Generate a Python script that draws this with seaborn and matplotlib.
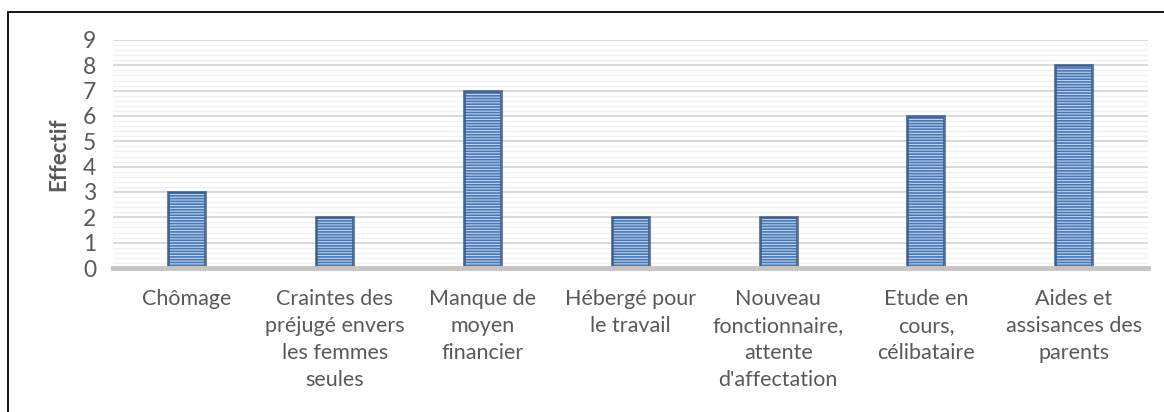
import matplotlib
matplotlib.use("Agg")
import matplotlib.pyplot as plt
from matplotlib.patches import Rectangle
from matplotlib.ticker import MultipleLocator
import seaborn as sns
import pandas as pd

categories = [
    "Chômage",
    "Craintes des\npréjugé envers\nles femmes\nseules",
    "Manque de\nmoyen\nfinancier",
    "Hébergé pour\nle travail",
    "Nouveau\nfonctionnaire,\nattente\nd'affectation",
    "Etude en\ncours,\ncélibataire",
    "Aides et\nassisances des\nparents",
]
effectif = [3, 2, 7, 2, 2, 6, 8]
y_ticks = list(range(0, 10))
y_label = "Effectif"

sns.set_theme(style="white")
plt.rcParams["font.family"] = ["Lato", "DejaVu Sans"]
plt.rcParams["hatch.linewidth"] = 1.2

df = pd.DataFrame({"cat": categories, "val": effectif})

fig = plt.figure(figsize=(11.64, 4.12), dpi=100)
ax = fig.add_axes([0.097, 0.3495, 0.889, 0.5535])

sns.barplot(data=df, x="cat", y="val", ax=ax, width=0.25,
            color="#bcd3ef", edgecolor="#4f81bd", linewidth=0, zorder=3)

for p in ax.patches:
    p.set_hatch("------")
    p.set_edgecolor("#4677b8")
    p.set_linewidth(0)
    outline = Rectangle(p.get_xy(), p.get_width(), p.get_height(),
                        facecolor="none", edgecolor="#3b5a85", linewidth=2.0,
                        alpha=0.85, zorder=4)
    ax.add_patch(outline)

ax.set_ylim(0, 9)
ax.set_xlim(-0.5, len(categories) - 0.5)
ax.set_yticks(y_ticks)
ax.yaxis.set_minor_locator(MultipleLocator(0.2))
ax.grid(axis="y", which="major", color="#d9d9d9", linewidth=1.4, zorder=0)
ax.grid(axis="y", which="minor", color="#f1f1f1", linewidth=1.0, zorder=0)
ax.set_axisbelow(True)

for s in ["left", "right", "top"]:
    ax.spines[s].set_visible(False)
ax.spines["bottom"].set_color("#c8c4c4")
ax.spines["bottom"].set_linewidth(3.5)
ax.spines["bottom"].set_zorder(5)

ax.tick_params(axis="y", which="both", length=0, pad=12, labelsize=16.5,
               labelcolor="#595959")
ax.tick_params(axis="x", length=0, pad=15, labelsize=15.5,
               labelcolor="#595959")
for lbl in ax.get_xticklabels():
    lbl.set_horizontalalignment("center")
    lbl.set_multialignment("center")
    lbl.set_linespacing(1.45)

ax.set_xlabel("")
ax.set_ylabel(y_label, fontsize=16, fontweight="bold", color="#595959",
              labelpad=10)

# Chart frame (left and top edges)
frame = Rectangle((0.0068, -0.05), 1.2, 1.021, transform=fig.transFigure,
                  facecolor="none", edgecolor="black", linewidth=1.3,
                  clip_on=False)
fig.patches.append(frame)

fig.savefig("out.png", dpi=100)
